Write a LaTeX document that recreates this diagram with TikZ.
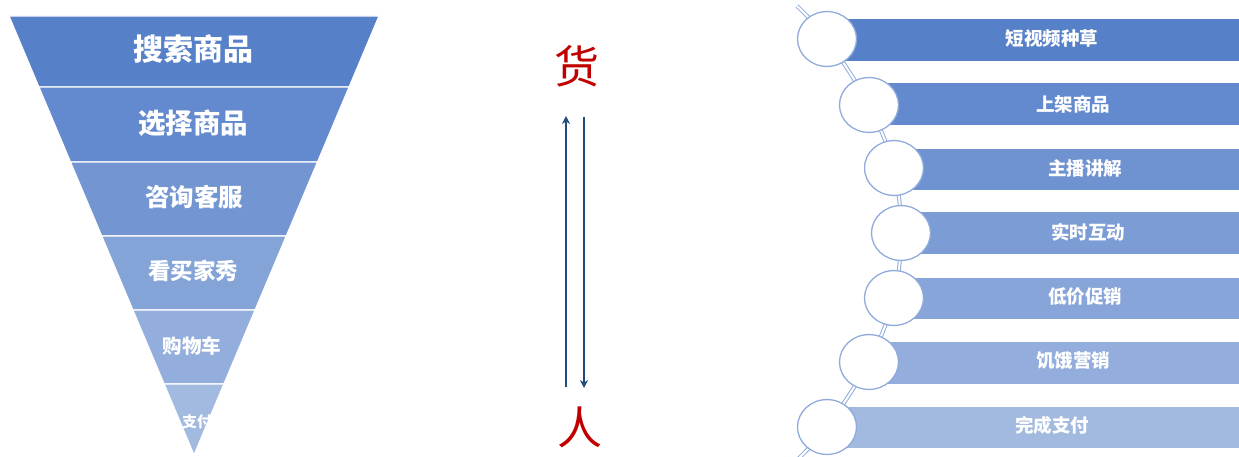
\documentclass[tikz,border=0pt]{standalone}
\usepackage{fontspec}
\newfontfamily\cjk{Noto Sans CJK SC}
\usetikzlibrary{arrows.meta}
\definecolor{fA}{HTML}{5680C8}
\definecolor{fB}{HTML}{6389CE}
\definecolor{fC}{HTML}{7396D2}
\definecolor{fD}{HTML}{84A3D7}
\definecolor{fE}{HTML}{93AEDC}
\definecolor{fF}{HTML}{A3BAE0}
\definecolor{bA}{HTML}{5680C8}
\definecolor{bB}{HTML}{6389CE}
\definecolor{bC}{HTML}{6F92D1}
\definecolor{bD}{HTML}{7B9CD5}
\definecolor{bE}{HTML}{87A5D8}
\definecolor{bF}{HTML}{93AEDC}
\definecolor{bG}{HTML}{A2B9E0}
\definecolor{ringc}{HTML}{8FAADC}
\definecolor{redc}{HTML}{C00000}
\definecolor{arrc}{HTML}{1F4E79}
\tikzset{
  band/.style={draw=white, line width=1.2pt},
  ftext/.style={text=white, font=\cjk\bfseries},
  btext/.style={text=white, font=\cjk\bfseries\fontsize{18.5}{18.5}\selectfont},
  ring/.style={circle, draw=ringc, line width=1.3pt, fill=white, minimum width=59pt, minimum height=59pt, inner sep=0pt, yscale=0.93},
  ringline/.style={draw=ringc, double=white, line width=1pt, double distance=2pt},
  vert/.style={draw=arrc, line width=2.4pt, -{Stealth[length=8pt,width=8pt]}},
  big/.style={text=redc, font=\cjk\fontsize{45}{45}\selectfont}
}
\begin{document}
\begin{tikzpicture}[x=1pt,y=-1pt]
\useasboundingbox (0,0) rectangle (1239,457);
% funnel
\fill[fA,band] (9,16) -- (379,16) -- (349.1,87) -- (38.9,87) -- cycle;
\fill[fB,band] (38.9,87) -- (349.1,87) -- (317.5,162) -- (70.5,162) -- cycle;
\fill[fC,band] (70.5,162) -- (317.5,162) -- (286.3,236) -- (101.7,236) -- cycle;
\fill[fD,band] (101.7,236) -- (286.3,236) -- (255.1,310) -- (132.9,310) -- cycle;
\fill[fE,band] (132.9,310) -- (255.1,310) -- (223.9,384) -- (164.1,384) -- cycle;
\fill[fF,band] (164.1,384) -- (223.9,384) -- (194,455) -- cycle;
\node[ftext, font=\cjk\bfseries\fontsize{30}{30}\selectfont] (f1) at (193,49) {搜索商品};
\node[ftext, font=\cjk\bfseries\fontsize{27.5}{27.5}\selectfont] (f2) at (193,123) {选择商品};
\node[ftext, font=\cjk\bfseries\fontsize{24.5}{24.5}\selectfont] (f3) at (194,197) {咨询客服};
\node[ftext, font=\cjk\bfseries\fontsize{22.5}{22.5}\selectfont] (f4) at (193,271) {看买家秀};
\node[ftext, font=\cjk\bfseries\fontsize{19.5}{19.5}\selectfont] (f5) at (192,346) {购物车};
\begin{scope}
\clip (164.1,384) -- (223.9,384) -- (194,455) -- cycle;
\node[ftext, font=\cjk\bfseries\fontsize{15}{15}\selectfont] (f6) at (197,422) {支付};
\end{scope}
% middle
\node[big] (huo) at (577,66) {货};
\node[big] (ren) at (580,427) {人};
\coordinate (u0) at (566,387);
\coordinate (u1) at (566,116);
\coordinate (d0) at (584,117);
\coordinate (d1) at (584,388);
\draw[vert] (u0) -- (u1);
\draw[vert] (d0) -- (d1);
% right: bars
\fill[bA] (827,19) rectangle (1239,61);
\fill[bB] (869,83) rectangle (1239,125);
\fill[bC] (894,149) rectangle (1239,190);
\fill[bD] (901,212) rectangle (1239,254);
\fill[bE] (894,278) rectangle (1239,319);
\fill[bF] (869,342) rectangle (1239,384);
\fill[bG] (827,407) rectangle (1239,448);
\node[btext] (t1) at (1052,39) {短视频种草};
\node[btext] (t2) at (1073,104) {上架商品};
\node[btext] (t3) at (1085,168) {主播讲解};
\node[btext] (t4) at (1088,232) {实时互动};
\node[btext] (t5) at (1085,297) {低价促销};
\node[btext] (t6) at (1073,361) {饥饿营销};
\node[btext] (t7) at (1052,425) {完成支付};
% chain
\coordinate (s0) at (797,6);
\coordinate (p1) at (827,39);
\coordinate (p2) at (869,105);
\coordinate (p3) at (894,168);
\coordinate (p4) at (901,233);
\coordinate (p5) at (894,298);
\coordinate (p6) at (869,362);
\coordinate (p7) at (827,427);
\coordinate (s8) at (797,460);
\draw[ringline] plot[smooth, tension=0.55] coordinates {(s0) (p1) (p2) (p3) (p4) (p5) (p6) (p7) (s8)};
\foreach \i in {1,...,7} {\node[ring] (c\i) at (p\i) {};}
\end{tikzpicture}
\end{document}
